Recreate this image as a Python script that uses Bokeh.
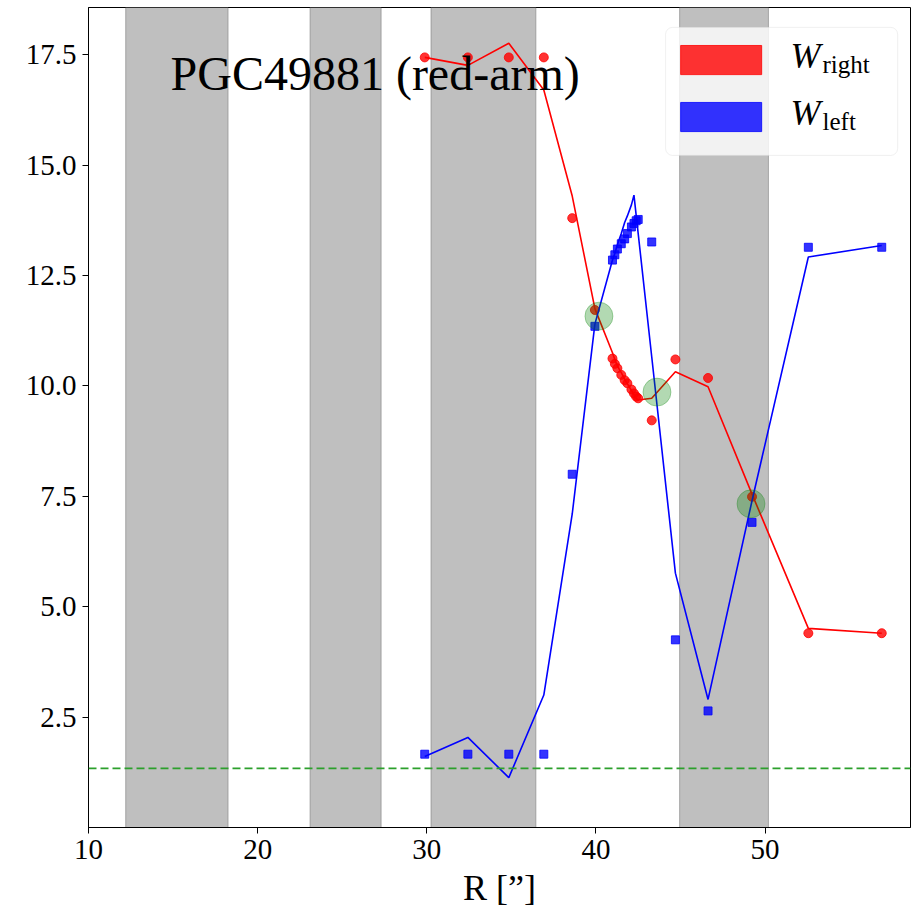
from bokeh.plotting import figure
from bokeh.models import FixedTicker, PrintfTickFormatter, Span, Label, BoxAnnotation, Range1d
from bokeh.embed import file_html
from bokeh.resources import INLINE

# ---------------- data ----------------
R = [29.88, 32.43, 34.85, 36.92, 38.6, 39.94,
     40.98, 41.12, 41.27, 41.5, 41.7, 41.86, 42.1, 42.25, 42.38, 42.5,
     43.3, 44.7, 46.63, 49.23, 52.56, 56.9]

w_right_pts = [17.44, 17.44, 17.44, 17.44, 13.8, 11.72,
               10.62, 10.5, 10.4, 10.25, 10.13, 10.06, 9.92, 9.83, 9.76, 9.72,
               9.22, 10.6, 10.18, 7.49, 4.4, 4.4]
w_right_line = [17.44, 17.26, 17.76, 16.7, 14.3, 11.75,
                10.75, 10.6, 10.45, 10.3, 10.15, 10.05, 9.9, 9.8, 9.72, 9.68,
                9.72, 10.32, 9.98, 7.55, 4.51, 4.4]

w_left_pts = [1.66, 1.66, 1.66, 1.66, 8.0, 11.35,
              12.85, 12.97, 13.1, 13.22, 13.33, 13.45, 13.6, 13.68, 13.74, 13.77,
              13.26, 4.25, 2.64, 6.91, 13.14, 13.14]
w_left_line = [1.61, 2.04, 1.13, 3.0, 7.1, 11.4,
               12.85, 13.0, 13.2, 13.45, 13.7, 13.85, 14.1, 14.32, 13.87, 13.45,
               10.66, 5.76, 2.9, 7.4, 12.92, 13.18]

cross_x = [40.18, 43.61, 49.17]
cross_y = [11.58, 9.86, 7.33]

band_left = [12.2, 23.1, 30.25, 44.95]
band_right = [18.25, 27.3, 36.45, 50.2]

threshold = 1.34

x_ticks = [10, 20, 30, 40, 50]
y_ticks = [2.5, 5.0, 7.5, 10.0, 12.5, 15.0, 17.5]

title_text = "PGC49881 (red-arm)"
x_label = "R [\u201d]"

X0, X1 = 10, 58.6
Y0, Y1 = 0, 18.57
FONT = "Liberation Serif"

# ---------------- figure ----------------
p = figure(width=911, height=912, x_range=Range1d(X0, X1), y_range=Range1d(Y0, Y1),
           output_backend="svg", toolbar_location=None,
           min_border_left=88, min_border_right=1, min_border_top=7, min_border_bottom=85)
p.grid.visible = False
p.outline_line_color = "black"
p.outline_line_width = 1
p.background_fill_color = "white"
p.border_fill_color = "white"

# shaded bands
p.quad(left=band_left, right=band_right, bottom=Y0, top=Y1,
       fill_color="grey", fill_alpha=0.5, line_color="grey", line_alpha=0.6, line_width=1)

# threshold line
p.add_layout(Span(location=threshold, dimension="width", line_color="#2ca02c",
                  line_dash="8 4", line_width=1.6))

# series
p.line(R, w_right_line, line_color="red", line_width=1.6)
p.scatter(R, w_right_pts, marker="circle", size=9, fill_color="red", fill_alpha=0.8,
          line_color="red", line_alpha=0.8)
p.line(R, w_left_line, line_color="blue", line_width=1.6)
p.scatter(R, w_left_pts, marker="square", size=8, fill_color="blue", fill_alpha=0.8,
          line_color="blue", line_alpha=0.8)

# crossing markers
p.scatter(cross_x, cross_y, marker="circle", size=28, fill_color="green", fill_alpha=0.3,
          line_color="green", line_alpha=0.3)

# axes
for ax in (p.xaxis, p.yaxis):
    ax.axis_line_color = "black"
    ax.major_tick_line_color = "black"
    ax.major_tick_out = 6
    ax.major_tick_in = 0
    ax.minor_tick_out = 0
    ax.minor_tick_in = 0
    ax.major_label_text_font = FONT
    ax.major_label_text_font_size = "29px"
    ax.major_label_text_color = "black"
    ax.major_label_standoff = 6

p.xaxis.ticker = FixedTicker(ticks=x_ticks)
p.xaxis.formatter = PrintfTickFormatter(format="%d")
p.yaxis.ticker = FixedTicker(ticks=y_ticks)
p.yaxis.formatter = PrintfTickFormatter(format="%.1f")

p.xaxis.axis_label = x_label
p.xaxis.axis_label_text_font = FONT
p.xaxis.axis_label_text_font_style = "normal"
p.xaxis.axis_label_text_font_size = "36px"
p.xaxis.axis_label_text_color = "black"
p.xaxis.axis_label_standoff = 6

# title inside the plot
p.add_layout(Label(x=14.85, y=17.08, text=title_text, text_font=FONT,
                   text_font_size="48px", text_color="black", text_baseline="alphabetic"))

# custom legend
p.add_layout(BoxAnnotation(left=44.12, right=57.84, bottom=15.22, top=18.12,
                           fill_color="white", fill_alpha=0.8, line_color="#cccccc",
                           line_width=1, border_radius=7))
p.add_layout(BoxAnnotation(left=45.01, right=49.8, bottom=17.05, top=17.71,
                           fill_color="red", fill_alpha=0.8, line_color="red", line_alpha=0.8))
p.add_layout(BoxAnnotation(left=45.01, right=49.8, bottom=15.76, top=16.42,
                           fill_color="blue", fill_alpha=0.8, line_color="blue", line_alpha=0.8))
for yb, sub in ((17.48, "right"), (16.19, "left")):
    p.add_layout(Label(x=51.51, y=yb, text="W", text_font=FONT, text_font_style="italic",
                       text_font_size="36px", text_color="black", text_baseline="alphabetic"))
    p.add_layout(Label(x=53.4, y=yb - 0.2, text=sub, text_font=FONT,
                       text_font_size="25px", text_color="black", text_baseline="alphabetic"))

open("out.html", "w").write(file_html(p, INLINE))
